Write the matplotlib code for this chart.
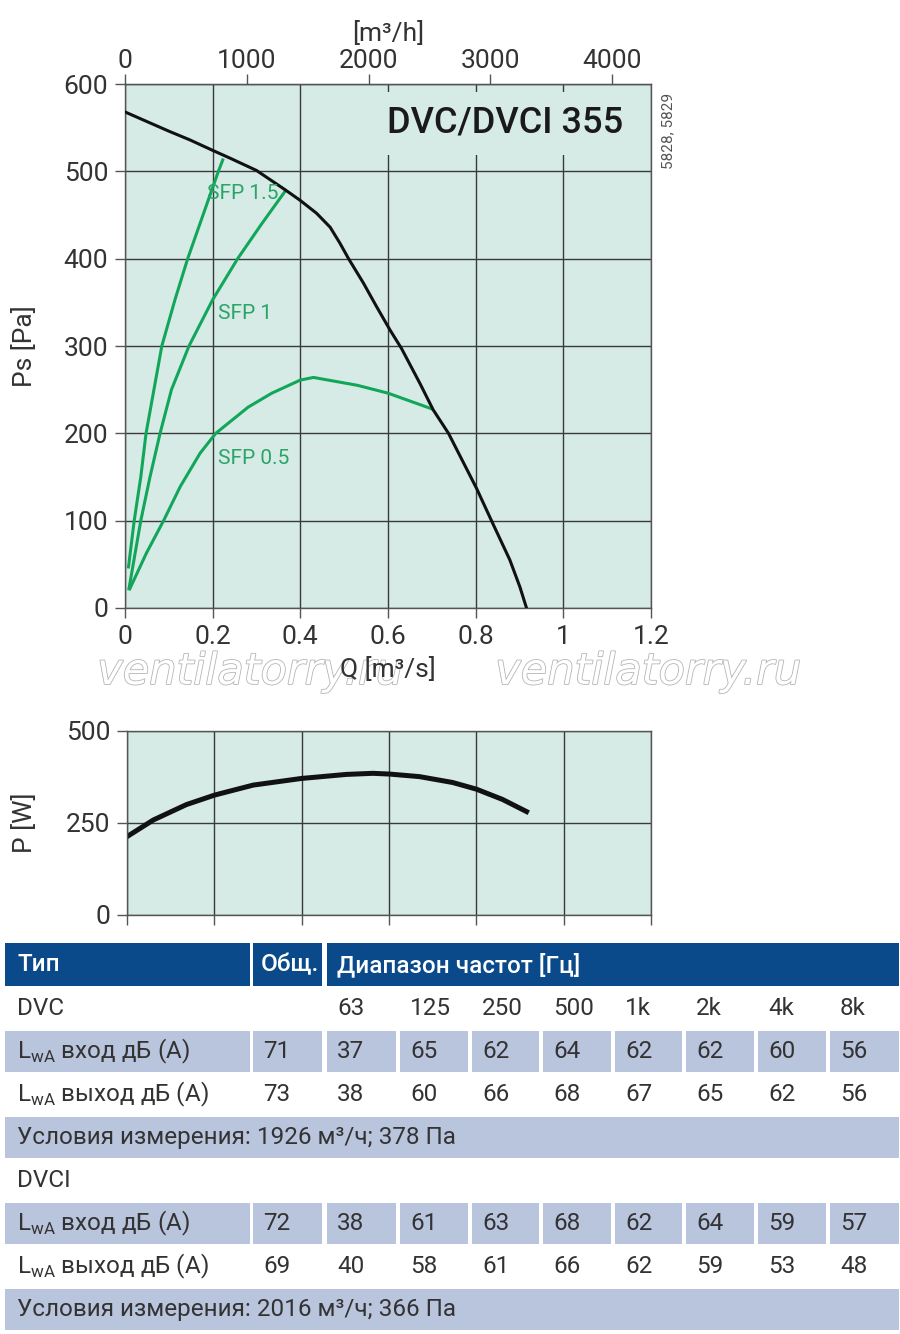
import matplotlib
matplotlib.use("Agg")
import matplotlib.pyplot as plt
import matplotlib.patheffects as pe
from matplotlib.patches import Rectangle

plt.rcParams['font.family'] = ['Roboto', 'DejaVu Sans']

# fan curve, static pressure
q_fan = [0, 0.1, 0.148, 0.2, 0.24, 0.3, 0.365, 0.399, 0.437, 0.468, 0.49, 0.51, 0.544, 0.574,
         0.605, 0.631, 0.673, 0.703, 0.738, 0.802, 0.837, 0.878, 0.901, 0.916]
ps_fan = [568, 546, 536, 524, 515, 501, 479, 467, 452, 436, 418, 400, 372, 345,
          318, 297, 257, 227, 200, 137, 99, 55, 24, 0]

# SFP lines
sfp15_q = [0.008, 0.021, 0.036, 0.048, 0.084, 0.114, 0.143, 0.185, 0.213, 0.223]
sfp15_ps = [47, 100, 150, 200, 300, 353, 400, 460, 500, 513]
sfp1_q = [0.009, 0.036, 0.057, 0.08, 0.106, 0.146, 0.2, 0.257, 0.312, 0.365]
sfp1_ps = [22, 100, 150, 200, 250, 300, 353, 400, 440, 477]
sfp05_q = [0.011, 0.049, 0.088, 0.126, 0.171, 0.207, 0.281, 0.335, 0.4, 0.43, 0.53, 0.6, 0.7]
sfp05_ps = [22, 63, 100, 139, 177, 200, 230, 246, 261, 264, 255, 246, 228]

# power
q_pow = [0, 0.06, 0.136, 0.201, 0.289, 0.399, 0.502, 0.563, 0.601, 0.67, 0.746, 0.8, 0.86, 0.915]
p_pow = [213, 258, 300, 326, 353, 371, 382, 385, 383, 376, 360, 342, 314, 281]

# sound table
bands = ['63', '125', '250', '500', '1k', '2k', '4k', '8k']
dvc_in_tot, dvc_in = '71', ['37', '65', '62', '64', '62', '62', '60', '56']
dvc_out_tot, dvc_out = '73', ['38', '60', '66', '68', '67', '65', '62', '56']
dvci_in_tot, dvci_in = '72', ['38', '61', '63', '68', '62', '64', '59', '57']
dvci_out_tot, dvci_out = '69', ['40', '58', '61', '66', '62', '59', '53', '48']
dvc_cond = 'Условия измерения: 1926 м³/ч; 378 Па'
dvci_cond = 'Условия измерения: 2016 м³/ч; 366 Па'

BG = '#d6ebe6'
GRID = '#3a3a3a'
GREEN = '#12a65a'
TXT = '#333333'
BLUE = '#0a4a8a'
LIGHT = '#b9c4dd'

W, H = 900, 1334
fig = plt.figure(figsize=(9, 13.34), dpi=100)


def fr(x0, y0, x1, y1):
    return [x0 / W, 1 - y1 / H, (x1 - x0) / W, (y1 - y0) / H]


# ---- main chart
ax = fig.add_axes(fr(125, 84, 651, 608))
ax.set_facecolor(BG)
ax.set_xlim(0, 1.2)
ax.set_ylim(0, 600)
ax.set_xticks([0, 0.2, 0.4, 0.6, 0.8, 1.0, 1.2])
ax.set_xticklabels(['0', '0.2', '0.4', '0.6', '0.8', '1', '1.2'])
ax.set_yticks([0, 100, 200, 300, 400, 500, 600])
ax.grid(True, color=GRID, lw=1.0)
ax.set_axisbelow(True)
ax.tick_params(length=7, width=1, color='#555555', labelsize=19, labelcolor=TXT, pad=5)
for s in ax.spines.values():
    s.set_color('#555555')
    s.set_linewidth(1.0)

ax.plot(q_fan, ps_fan, color='#111111', lw=2.2, zorder=4)
ax.plot(sfp15_q, sfp15_ps, color=GREEN, lw=2.2, zorder=3)
ax.plot(sfp1_q, sfp1_ps, color=GREEN, lw=2.2, zorder=3)
ax.plot(sfp05_q, sfp05_ps, color=GREEN, lw=2.2, zorder=3)
ax.text(0.188, 475, 'SFP 1.5', color='#2aa468', fontsize=15, va='center', zorder=5)
ax.text(0.213, 337, 'SFP 1', color='#2aa468', fontsize=15, va='center', zorder=5)
ax.text(0.213, 171, 'SFP 0.5', color='#2aa468', fontsize=15, va='center', zorder=5)

ax.text(1.136, 555, 'DVC/DVCI 355', fontsize=26, fontweight='medium', color='#1a1a1a',
        ha='right', va='center', zorder=2,
        bbox=dict(boxstyle='square,pad=0.38', facecolor=BG, edgecolor='none'))

ax.set_ylabel('Ps [Pa]', fontsize=19, color=TXT, labelpad=19)
ax.set_xlabel('Q [m³/s]', fontsize=19, color=TXT, labelpad=6)

sec = ax.secondary_xaxis('top', functions=(lambda q: q * 3600, lambda v: v / 3600))
sec.set_xticks([0, 1000, 2000, 3000, 4000])
sec.tick_params(length=7, width=1, color='#555555', labelsize=19, labelcolor=TXT, pad=1)
sec.set_xlabel('[m³/h]', fontsize=19, color=TXT, labelpad=6)

fig.text(668 / W, 1 - 131 / H, '5828, 5829', rotation=90, fontsize=11, color='#555555',
         ha='center', va='center')

# watermark
for cx in [250, 648]:
    fig.text(cx / W, 1 - 672 / H, 'ventilatorry.ru', family='DejaVu Sans', style='italic',
             fontsize=31, color='white', ha='center', va='center', zorder=-1,
             path_effects=[pe.Stroke(linewidth=1.2, foreground='#b5b5b5'), pe.Normal()])

# ---- power chart
ax2 = fig.add_axes(fr(127, 731, 651, 915))
ax2.set_facecolor(BG)
ax2.set_xlim(0, 1.2)
ax2.set_ylim(0, 500)
ax2.set_xticks([0, 0.2, 0.4, 0.6, 0.8, 1.0, 1.2])
ax2.set_xticklabels([])
ax2.set_yticks([0, 250, 500])
ax2.grid(True, color=GRID, lw=1.0)
ax2.set_axisbelow(True)
ax2.tick_params(length=7, width=1, color='#555555', labelsize=19, labelcolor=TXT, pad=5)
for s in ax2.spines.values():
    s.set_color('#555555')
    s.set_linewidth(1.0)
ax2.plot(q_pow, p_pow, color='#111111', lw=3.6)
ax2.set_ylabel('P [W]', fontsize=19, color=TXT, labelpad=21)

# ---- table
tx = fig.add_axes([0, 0, 1, 1], zorder=-2)
tx.set_xlim(0, W)
tx.set_ylim(H, 0)
tx.axis('off')

col_l = [5, 253, 327, 400, 472, 543, 615, 686, 758, 830]
col_r = [250, 322, 396, 468, 539, 611, 682, 754, 826, 899]
row_top = 987
row_h = 43
fs = 17.5


def cell(x0, x1, y0, y1, color):
    tx.add_patch(Rectangle((x0, y0), x1 - x0, y1 - y0, facecolor=color, edgecolor='none'))


# header
hdr_y0, hdr_y1 = 943, 986
cell(col_l[0], col_r[0], hdr_y0, hdr_y1, BLUE)
cell(col_l[1], col_r[1], hdr_y0, hdr_y1, BLUE)
cell(col_l[2], col_r[-1], hdr_y0, hdr_y1, BLUE)
hy = (hdr_y0 + hdr_y1) / 2
tx.text(col_l[0] + 12, hy, 'Тип', color='white', fontsize=fs, fontweight='medium', va='center')
tx.text(col_l[1] + 8, hy, 'Общ.', color='white', fontsize=fs, fontweight='medium', va='center')
tx.text(col_l[2] + 10, hy, 'Диапазон частот [Гц]', color='white', fontsize=fs,
        fontweight='medium', va='center')

rows = [
    ('DVC', '', bands, None),
    (r'L$_{\mathregular{wA}}$ вход дБ (A)', dvc_in_tot, dvc_in, 'cells'),
    (r'L$_{\mathregular{wA}}$ выход дБ (A)', dvc_out_tot, dvc_out, None),
    (dvc_cond, None, None, 'full'),
    ('DVCI', '', [''] * 8, None),
    (r'L$_{\mathregular{wA}}$ вход дБ (A)', dvci_in_tot, dvci_in, 'cells'),
    (r'L$_{\mathregular{wA}}$ выход дБ (A)', dvci_out_tot, dvci_out, None),
    (dvci_cond, None, None, 'full'),
]

for i, (label, tot, vals, shade) in enumerate(rows):
    y0 = row_top + i * row_h
    y1 = y0 + row_h
    yc = (y0 + y1) / 2
    if shade == 'full':
        cell(col_l[0], col_r[-1], y0 + 1, y1 - 1, LIGHT)
    elif shade == 'cells':
        for a, b in zip(col_l, col_r):
            cell(a, b, y0 + 1, y1 - 1, LIGHT)
    tx.text(col_l[0] + 12, yc, label, color=TXT, fontsize=fs, va='center')
    if tot is not None:
        tx.text(col_l[1] + 10, yc, tot, color=TXT, fontsize=fs, va='center')
        for x0, v in zip(col_l[2:], vals):
            tx.text(x0 + 10, yc, v, color=TXT, fontsize=fs, va='center')

fig.savefig('out.png', dpi=100, facecolor='white')
